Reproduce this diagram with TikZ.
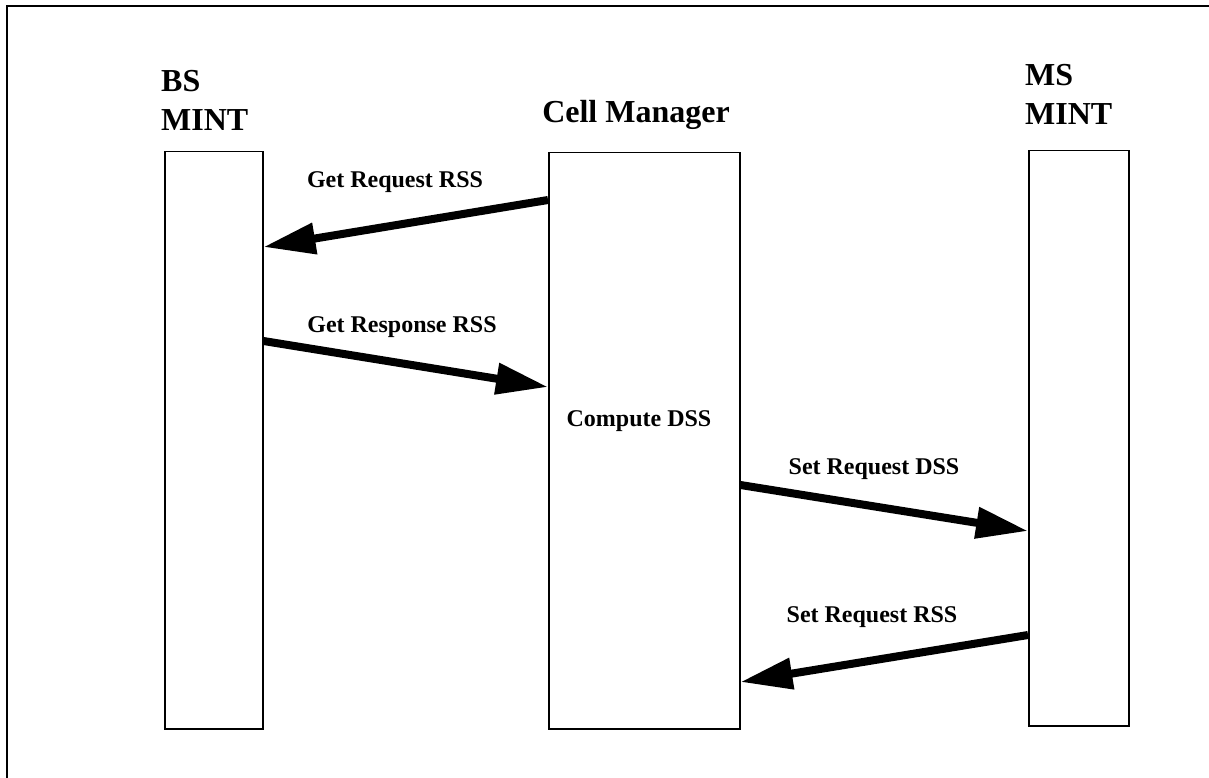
\documentclass[tikz,border=0pt]{standalone}
\usepackage{fontspec}
\setmainfont{Liberation Serif}
\usetikzlibrary{arrows.meta}
\tikzset{
  lane/.style={draw, line width=1.5pt, inner sep=0pt, anchor=north west},
  head/.style={font=\fontsize{32}{39}\selectfont\bfseries, inner sep=0pt},
  msglabel/.style={font=\fontsize{24}{28}\selectfont\bfseries, inner sep=0pt, anchor=base},
  msg/.style={line width=8pt, -{Triangle[length=52pt,width=30pt]}, shorten >=0pt},
}
\begin{document}
\begin{tikzpicture}[x=1pt, y=-1pt]
  \useasboundingbox (0,0) rectangle (1209,778);
  % outer frame (open at right and bottom)
  \draw[line width=2pt] (1209,6) -- (7,6) -- (7,778);

  % lifeline boxes
  \node[lane, minimum width=98pt, minimum height=577pt] (bs) at (164,151) {};
  \node[lane, minimum width=191pt, minimum height=576pt] (cm) at (548,152) {};
  \node[lane, minimum width=100pt, minimum height=575pt] (ms) at (1028,150) {};

  % headings
  \node[head, anchor=base west] (bsA) at (161,92) {BS};
  \node[head, anchor=base west] (bsB) at (161,131) {MINT};
  \node[head, anchor=base] (cmT) at (636,123) {Cell Manager};
  \node[head, anchor=base west] (msA) at (1025,86) {MS};
  \node[head, anchor=base west] (msB) at (1025,125) {MINT};

  % messages
  \draw[msg] ([yshift=-48pt]cm.north west) -- ([yshift=-96pt]bs.north east);
  \node[msglabel] (l1) at (395,187) {Get Request RSS};

  \draw[msg] ([yshift=-190pt]bs.north east) -- ([yshift=-235pt]cm.north west);
  \node[msglabel] (l2) at (402,332) {Get Response RSS};

  \node[msglabel] (l3) at (639,426) {Compute DSS};

  \draw[msg] ([yshift=-333pt]cm.north east) -- ([yshift=-381pt]ms.north west);
  \node[msglabel] (l4) at (874,474) {Set Request DSS};

  \draw[msg] ([yshift=-485pt]ms.north west) -- ([yshift=-530pt]cm.north east);
  \node[msglabel] (l5) at (872,622) {Set Request RSS};
\end{tikzpicture}
\end{document}
